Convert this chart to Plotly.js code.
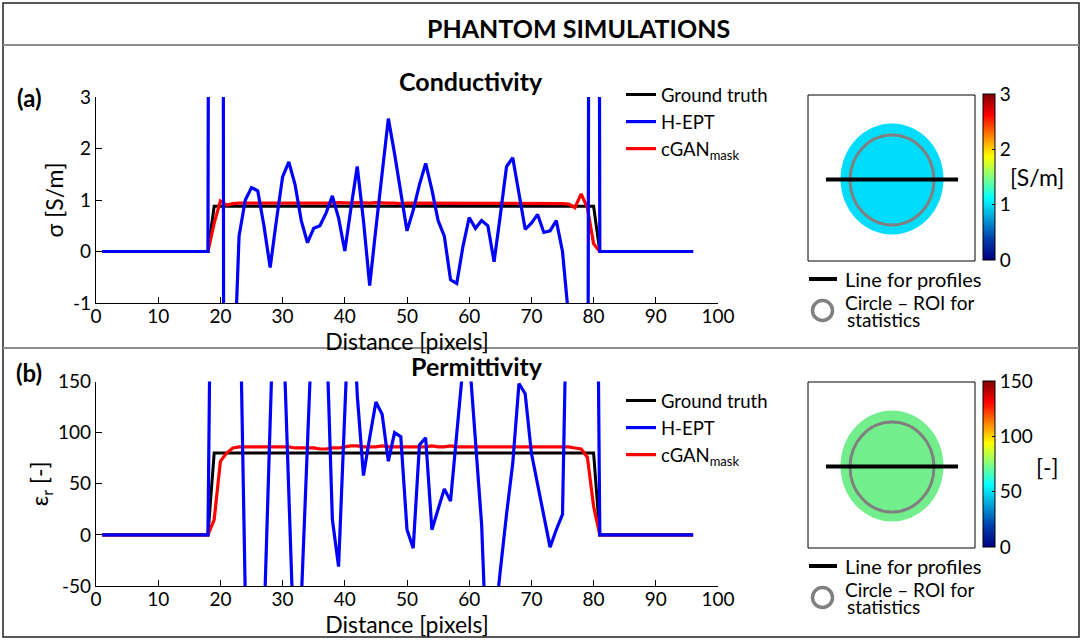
<!DOCTYPE html>
<html>
<head>
<meta charset="utf-8">
<script src="https://cdn.plot.ly/plotly-3.0.1.min.js"></script>
<style>html,body{margin:0;padding:0;background:#fff;}#chart{width:1082px;height:640px;}</style>
</head>
<body>
<div id="chart"></div>
<script>
// ---------- DATA ----------
const distance = [1,2,3,4,5,6,7,8,9,10,11,12,13,14,15,16,17,18,19,20,21,22,23,24,25,26,27,28,29,30,31,32,33,34,35,36,37,38,39,40,41,42,43,44,45,46,47,48,49,50,51,52,53,54,55,56,57,58,59,60,61,62,63,64,65,66,67,68,69,70,71,72,73,74,75,76,77,78,79,80,81,82,83,84,85,86,87,88,89,90,91,92,93,94,95,96];

// Conductivity [S/m]
const sigmaTruth = [0,0,0,0,0,0,0,0,0,0,0,0,0,0,0,0,0,0,
  0.88,0.88,0.88,0.88,0.88,0.88,0.88,0.88,0.88,0.88,
  0.88,0.88,0.88,0.88,0.88,0.88,0.88,0.88,0.88,0.88,
  0.88,0.88,0.88,0.88,0.88,0.88,0.88,0.88,0.88,0.88,
  0.88,0.88,0.88,0.88,0.88,0.88,0.88,0.88,0.88,0.88,
  0.88,0.88,0.88,0.88,0.88,0.88,0.88,0.88,0.88,0.88,
  0.88,0.88,0.88,0.88,0.88,0.88,0.88,0.88,0.88,0.88,
  0.88,0.88,
  0,0,0,0,0,0,0,0,0,0,0,0,0,0,0,0];
const sigmaHEPT = [0,0,0,0,0,0,0,0,0,0,0,0,0,0,0,0,0,0,
  60,60,-60,-3,0.3,1.0,1.24,1.18,0.5,-0.31,0.6,1.45,1.74,1.3,0.6,0.17,0.45,0.5,0.75,1.08,0.65,0.01,
  0.85,1.65,0.6,-0.66,0.45,1.55,2.58,1.9,1.15,0.4,0.8,1.3,1.71,1.2,0.6,0.3,-0.55,-0.62,0.1,0.66,
  0.45,0.6,0.5,-0.2,0.7,1.65,1.82,1.1,0.43,0.55,0.72,0.37,0.4,0.6,0.0,-1.3,-6,-15,-10,60,
  0,0,0,0,0,0,0,0,0,0,0,0,0,0,0,0];
const sigmaCGAN = [0,0,0,0,0,0,0,0,0,0,0,0,0,0,0,0,0,0,
  0.55,0.98,0.90,0.93,0.94,0.94,0.93,0.94,0.94,0.93,0.94,0.94,0.93,0.94,0.93,0.94,0.94,0.93,0.94,0.94,
  0.95,0.94,0.94,0.95,0.94,0.94,0.95,0.94,0.94,0.94,0.93,0.94,0.94,0.93,0.94,0.94,0.94,0.93,0.94,0.94,
  0.94,0.93,0.94,0.94,0.94,0.93,0.94,0.94,0.94,0.93,0.94,0.93,0.94,0.94,0.93,0.93,0.93,0.92,0.85,1.12,0.85,0.15,
  0,0,0,0,0,0,0,0,0,0,0,0,0,0,0,0];

// Relative permittivity [-]
const epsTruth = [0,0,0,0,0,0,0,0,0,0,0,0,0,0,0,0,0,0,
  80,80,80,80,80,80,80,80,80,80,
  80,80,80,80,80,80,80,80,80,80,
  80,80,80,80,80,80,80,80,80,80,
  80,80,80,80,80,80,80,80,80,80,
  80,80,80,80,80,80,80,80,80,80,
  80,80,80,80,80,80,80,80,80,80,
  80,80,
  0,0,0,0,0,0,0,0,0,0,0,0,0,0,0,0];
const epsHEPT = [0,0,0,0,0,0,0,0,0,0,0,0,0,0,0,0,0,0,
  600,700,650,500,283,-60,-150,-130,-90,110,310,223,41,-141,-65,89,243,260,210,15,
  -31,120,270,137,58,95,130,118,72,100,96,5,-13,88,95,5,25,45,33,100,
  165,175,95,10,-150,-90,-35,20,70,148,138,80,50,20,-12,5,20,345,400,380,
  360,700,
  0,0,0,0,0,0,0,0,0,0,0,0,0,0,0,0];
const epsCGAN = [0,0,0,0,0,0,0,0,0,0,0,0,0,0,0,0,0,0,
  15,72,80,85,86,86,86,86,86,86,86,86,86,85,85,85,85,84,84,85,
  85,86,87,87,86,86,86,87,86,86,86,86,86,86,86,87,86,86,87,86,
  86,86,86,86,86,86,86,86,86,86,86,86,86,86,86,86,86,86,85,84,
  76,28,
  0,0,0,0,0,0,0,0,0,0,0,0,0,0,0,0];

const seriesNames = ['Ground truth', 'H-EPT', 'cGAN<sub>mask</sub>'];
const sigmaTicks = [-1, 0, 1, 2, 3];
const epsTicks = [-50, 0, 50, 100, 150];
const sigmaBarTicks = [0, 1, 2, 3];
const epsBarTicks = [0, 50, 100, 150];
const sigmaRange = [-1, 3];
const epsRange = [-50, 150];
const sigmaColorRange = [0, 3];
const epsColorRange = [0, 150];
const distTicks = [0,10,20,30,40,50,60,70,80,90,100];

// ---------- LAYOUT HELPERS ----------
const W = 1082, H = 640;
const px = v => v / W;
const py = v => 1 - v / H;
const FONT = 'Lato, "Open Sans", sans-serif';
const f = (size) => ({family: FONT, size: size, color: '#000'});

function profileTraces(truth, hept, cgan, xa, ya, legendId) {
  return [
    {x: distance, y: truth, xaxis: xa, yaxis: ya, type: 'scatter', mode: 'lines', name: seriesNames[0],
     line: {color: '#000000', width: 3}, legend: legendId, legendrank: 1},
    {x: distance, y: cgan, xaxis: xa, yaxis: ya, type: 'scatter', mode: 'lines', name: seriesNames[2],
     line: {color: '#ff0000', width: 3.2}, legend: legendId, legendrank: 3},
    {x: distance, y: hept, xaxis: xa, yaxis: ya, type: 'scatter', mode: 'lines', name: seriesNames[1],
     line: {color: '#0000ff', width: 3.2}, legend: legendId, legendrank: 2}
  ];
}

function colorbarTrace(rng, ticks, topPx) {
  return {
    x: rng, y: rng, xaxis: 'x3', yaxis: 'y3', type: 'scatter', mode: 'markers',
    showlegend: false, hoverinfo: 'skip',
    marker: {
      color: rng, cmin: rng[0], cmax: rng[1], colorscale: 'Jet', showscale: true, opacity: 0,
      colorbar: {
        x: px(982.5), xanchor: 'left', y: py(topPx), yanchor: 'top',
        thickness: 12, thicknessmode: 'pixels', len: 166, lenmode: 'pixels',
        xpad: 0, ypad: 0, outlinewidth: 1, outlinecolor: '#000',
        tickvals: ticks, ticks: 'inside', ticklen: 3, tickcolor: '#000',
        tickfont: f(19)
      }
    }
  };
}

const data = [
  ...profileTraces(sigmaTruth, sigmaHEPT, sigmaCGAN, 'x', 'y', 'legend'),
  ...profileTraces(epsTruth, epsHEPT, epsCGAN, 'x2', 'y2', 'legend2'),
  colorbarTrace(sigmaColorRange, sigmaBarTicks, 94),
  colorbarTrace(epsColorRange, epsBarTicks, 381)
];

const axisCommon = {
  showline: true, linecolor: '#000', linewidth: 1.2, showgrid: false, zeroline: false,
  ticks: 'inside', ticklen: 6, tickcolor: '#000', tickwidth: 1,
  tickfont: f(19), fixedrange: true
};

const legendCommon = {
  xanchor: 'left', yanchor: 'top', bgcolor: 'rgba(0,0,0,0)', borderwidth: 0,
  font: f(18.5), itemwidth: 30, traceorder: 'normal'
};

function ann(text, xPx, yPx, opts) {
  return Object.assign({text: text, x: px(xPx), y: py(yPx), xref: 'paper', yref: 'paper',
    showarrow: false, xanchor: 'center', yanchor: 'middle', font: f(20)}, opts || {});
}
function rect(x0, y0, x1, y1, line, fill) {
  return {type: 'rect', xref: 'paper', yref: 'paper', x0: px(x0), x1: px(x1), y0: py(y1), y1: py(y0),
    line: line, fillcolor: fill || 'rgba(0,0,0,0)'};
}
function circ(x0, y0, x1, y1, line, fill) {
  return {type: 'circle', xref: 'paper', yref: 'paper', x0: px(x0), x1: px(x1), y0: py(y1), y1: py(y0),
    line: line, fillcolor: fill || 'rgba(0,0,0,0)'};
}
function seg(x0, y0, x1, y1, line) {
  return {type: 'line', xref: 'paper', yref: 'paper', x0: px(x0), x1: px(x1), y0: py(y0), y1: py(y1), line: line};
}

function phantomShapes(top, discFill) {
  const s = [];
  s.push(rect(808, top, 975, top + 166, {color: '#000', width: 1}));
  s.push(circ(840.5, top + 28.5, 943.5, top + 139.5, {width: 0}, discFill));
  s.push(circ(850, top + 40, 934, top + 130, {color: '#808080', width: 3}));
  s.push(seg(826, top + 84.5, 958, top + 84.5, {color: '#000', width: 4}));
  s.push(seg(809, top + 184, 837, top + 184, {color: '#000', width: 4}));
  s.push(circ(812.5, top + 205.5, 832.5, top + 225.5, {color: '#808080', width: 3.5}));
  return s;
}

const shapes = [
  rect(3, 3, 1079, 637, {color: '#222', width: 1.5}),
  seg(3, 45, 1079, 45, {color: '#8c8c8c', width: 2}),
  seg(3, 348, 1079, 348, {color: '#8c8c8c', width: 2}),
  ...phantomShapes(95, '#00dcfc'),
  ...phantomShapes(382, '#72ee8c')
];

const annotations = [
  ann('<b>PHANTOM SIMULATIONS</b>', 578, 28, {font: f(25)}),
  ann('<b>Conductivity</b>', 471, 81, {font: f(25)}),
  ann('<b>Permittivity</b>', 477, 366, {font: f(25)}),
  ann('<b>(a)</b>', 29, 97, {font: f(24)}),
  ann('<b>(b)</b>', 29, 372, {font: f(24)}),
  ann('[S/m]', 1037, 177, {font: f(23)}),
  ann('[-]', 1047, 467, {font: f(23)}),
  ann('Line for profiles', 843, 279, {xanchor: 'left'}),
  ann('Circle – ROI for', 843, 302, {xanchor: 'left', font: f(19)}),
  ann('statistics', 845, 319, {xanchor: 'left', font: f(19)}),
  ann('Line for profiles', 843, 566, {xanchor: 'left'}),
  ann('Circle – ROI for', 843, 589, {xanchor: 'left', font: f(19)}),
  ann('statistics', 845, 606, {xanchor: 'left', font: f(19)})
];

const xCommon = {domain: [px(96), px(718)], range: [0, 100], tickvals: distTicks, ticklabelstandoff: -4};

const layout = {
  width: W, height: H, margin: {l: 0, r: 0, t: 0, b: 0},
  paper_bgcolor: '#fff', plot_bgcolor: 'rgba(0,0,0,0)',
  font: {family: FONT, color: '#000'},
  showlegend: true,
  xaxis: Object.assign({}, axisCommon, xCommon, {anchor: 'y',
    title: {text: 'Distance [pixels]', standoff: 0, font: f(23)}}),
  yaxis: Object.assign({}, axisCommon, {domain: [py(303), py(97)], range: sigmaRange,
    tickvals: sigmaTicks, ticktext: sigmaTicks.map(String), anchor: 'x',
    title: {text: 'σ [S/m]', standoff: 2, font: f(23)}}),
  xaxis2: Object.assign({}, axisCommon, xCommon, {anchor: 'y2',
    title: {text: 'Distance [pixels]', standoff: 0, font: f(23)}}),
  yaxis2: Object.assign({}, axisCommon, {domain: [py(586), py(381.5)], range: epsRange,
    tickvals: epsTicks, ticktext: epsTicks.map(String), anchor: 'x2',
    title: {text: 'ε<sub>r</sub> [-]', standoff: 2, font: f(23)}}),
  xaxis3: {domain: [0.99, 1], visible: false, anchor: 'y3', fixedrange: true},
  yaxis3: {domain: [0.99, 1], visible: false, anchor: 'x3', fixedrange: true},
  legend: Object.assign({}, legendCommon, {x: px(621), y: py(76)}),
  legend2: Object.assign({}, legendCommon, {x: px(621), y: py(382)}),
  shapes: shapes,
  annotations: annotations
};

Plotly.newPlot('chart', data, layout, {displayModeBar: false, staticPlot: true});
</script>
</body>
</html>
